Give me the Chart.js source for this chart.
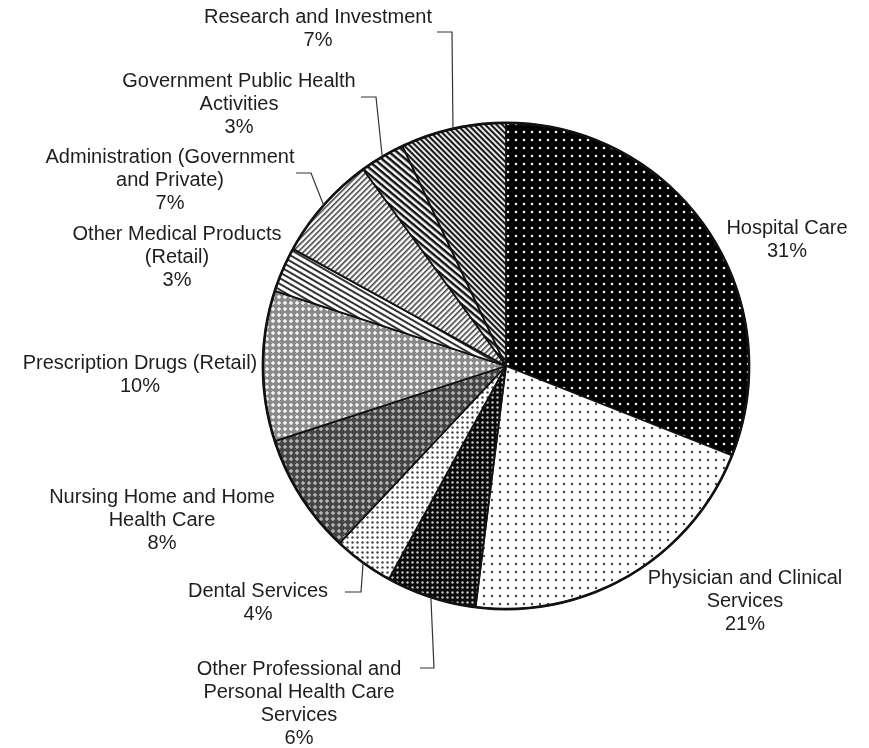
<!DOCTYPE html>
<html>
<head>
<meta charset="utf-8">
<script src="https://cdn.jsdelivr.net/npm/chart.js@4.4.1/dist/chart.umd.min.js"></script>
<style>
  html, body { margin: 0; background: #fff; }
  #wrap { width: 869px; height: 748px; }
</style>
</head>
<body>
<div id="wrap"><canvas id="pie" width="869" height="748"></canvas></div>
<script>
// ─── DATA ─────────────────────────────────────────────────────────────────────
const CATEGORIES = [
  ["Hospital Care"],
  ["Physician and Clinical", "Services"],
  ["Other Professional and", "Personal Health Care", "Services"],
  ["Dental Services"],
  ["Nursing Home and Home", "Health Care"],
  ["Prescription Drugs (Retail)"],
  ["Other Medical Products", "(Retail)"],
  ["Administration (Government", "and Private)"],
  ["Government Public Health", "Activities"],
  ["Research and Investment"],
];
const SHARES = [31, 21, 6, 4, 8, 10, 3, 7, 3, 7];

// ─── LABEL LAYOUT ─────────────────────────────────────────────────────────────
// x = text centre, y = first baseline; stub = short horizontal leader [x1, x2, y]
const LABEL_POS = [
  { x: 787, y: 234 },
  { x: 745, y: 584 },
  { x: 299, y: 675, stub: [420, 434, 668] },
  { x: 258, y: 597, stub: [345, 361, 592] },
  { x: 162, y: 503 },
  { x: 140, y: 369 },
  { x: 177, y: 240 },
  { x: 170, y: 163, stub: [296, 311, 173] },
  { x: 239, y: 87,  stub: [361, 376, 97] },
  { x: 318, y: 23,  stub: [437, 452, 32] },
];
const LINE_H = 23;

// ─── FILL PATTERNS ────────────────────────────────────────────────────────────
function tile(size, draw) {
  const c = document.createElement("canvas");
  c.width = c.height = size;
  const g = c.getContext("2d");
  draw(g, size);
  return g.createPattern(c, "repeat");
}

function dots(bg, fg, step, r) {
  return tile(step, (g, s) => {
    g.fillStyle = bg; g.fillRect(0, 0, s, s);
    g.fillStyle = fg;
    g.beginPath(); g.arc(s / 2, s / 2, r, 0, Math.PI * 2); g.fill();
  });
}

function stripes(bg, fg, step, width, angle) {
  const p = tile(step, (g, s) => {
    g.fillStyle = bg; g.fillRect(0, 0, s, s);
    g.fillStyle = fg; g.fillRect(0, 0, s, width);
  });
  p.setTransform(new DOMMatrix().rotate(angle));
  return p;
}

function lattice(bg, hole, step, size) {
  return tile(step, (g, s) => {
    g.fillStyle = bg; g.fillRect(0, 0, s, s);
    g.fillStyle = hole;
    g.beginPath();
    g.moveTo(s / 2, s / 2 - size); g.lineTo(s / 2 + size, s / 2);
    g.lineTo(s / 2, s / 2 + size); g.lineTo(s / 2 - size, s / 2);
    g.closePath(); g.fill();
  });
}

const FILLS = [
  dots("#000", "#f0f0f0", 8, 1.3),          // hospital
  dots("#fff", "#444", 8, 1.2),             // physician
  dots("#0a0a0a", "#c8c8c8", 5, 1.2),       // other professional
  dots("#fff", "#444", 5, 1.2),             // dental
  lattice("#454545", "#b4b4b4", 6, 2.2),    // nursing home
  lattice("#8a8a8a", "#f4f4f4", 6, 2.2),    // prescription drugs
  stripes("#fff", "#333", 5, 2, 30),        // other medical products
  stripes("#fff", "#444", 4, 1.6, -45),     // administration
  stripes("#fff", "#111", 5, 2.5, 40),      // government public health
  stripes("#fff", "#1a1a1a", 4.5, 2.2, 45), // research
];

// ─── LABELS + LEADERS ─────────────────────────────────────────────────────────
const sliceLabels = {
  id: "sliceLabels",
  afterDatasetsDraw(chart) {
    const ctx = chart.ctx;
    const arcs = chart.getDatasetMeta(0).data;
    ctx.save();

    // heavier rim round the whole pie
    const rim = arcs[0].getProps(["x", "y", "outerRadius"], true);
    ctx.strokeStyle = "#111";
    ctx.lineWidth = 2.6;
    ctx.beginPath();
    ctx.arc(rim.x, rim.y, rim.outerRadius, 0, Math.PI * 2);
    ctx.stroke();

    ctx.font = '20px "Liberation Sans", Arial, sans-serif';
    ctx.fillStyle = "#1e1e1e";
    ctx.textAlign = "center";
    ctx.textBaseline = "alphabetic";
    CATEGORIES.forEach((name, i) => {
      const pos = LABEL_POS[i];
      const lines = [...name, SHARES[i] + "%"];
      lines.forEach((t, k) => ctx.fillText(t, pos.x, pos.y + k * LINE_H));

      if (pos.stub) {
        const a = arcs[i].getProps(["x", "y", "startAngle", "endAngle", "outerRadius"], true);
        const mid = (a.startAngle + a.endAngle) / 2;
        const ex = a.x + Math.cos(mid) * a.outerRadius;
        const ey = a.y + Math.sin(mid) * a.outerRadius;
        const [x1, x2, y] = pos.stub;
        ctx.strokeStyle = "#333";
        ctx.lineWidth = 1.2;
        ctx.beginPath();
        ctx.moveTo(x1, y); ctx.lineTo(x2, y); ctx.lineTo(ex, ey);
        ctx.stroke();
      }
    });
    ctx.restore();
  }
};

// ─── CHART ────────────────────────────────────────────────────────────────────
new Chart(document.getElementById("pie").getContext("2d"), {
  type: "pie",
  data: {
    labels: CATEGORIES.map(c => c.join(" ")),
    datasets: [{
      data: SHARES,
      backgroundColor: FILLS,
      borderColor: "#111",
      borderWidth: 1.8,
    }]
  },
  options: {
    responsive: false,
    animation: false,
    layout: { padding: { left: 262, right: 119, top: 122, bottom: 138 } },
    plugins: {
      legend: { display: false },
      tooltip: { enabled: false },
    }
  },
  plugins: [sliceLabels]
});
</script>
</body>
</html>
